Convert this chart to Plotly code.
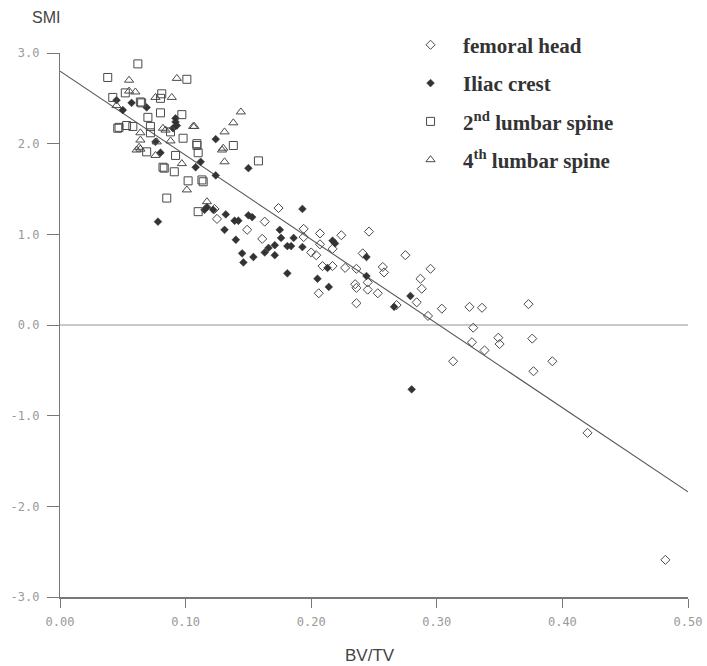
import plotly.graph_objects as go

# ---- data ----
femoral_x = [0.123, 0.125, 0.149, 0.163, 0.174, 0.161, 0.194, 0.194, 0.207, 0.207, 0.200, 0.204,
             0.224, 0.217, 0.209, 0.217, 0.206, 0.227, 0.236, 0.241, 0.246, 0.235, 0.236, 0.236,
             0.245, 0.245, 0.253, 0.257, 0.258, 0.275, 0.287, 0.288, 0.284, 0.293, 0.295, 0.268,
             0.304, 0.326, 0.336, 0.373, 0.329, 0.328, 0.338, 0.349, 0.350, 0.376, 0.313, 0.392,
             0.377, 0.420, 0.482]
femoral_y = [1.28, 1.17, 1.05, 1.14, 1.29, 0.95, 1.06, 0.97, 1.01, 0.89, 0.80, 0.77,
             0.99, 0.84, 0.65, 0.65, 0.35, 0.63, 0.62, 0.79, 1.03, 0.45, 0.41, 0.24,
             0.47, 0.39, 0.35, 0.64, 0.58, 0.77, 0.51, 0.40, 0.25, 0.10, 0.62, 0.22,
             0.18, 0.20, 0.19, 0.23, -0.03, -0.19, -0.28, -0.14, -0.21, -0.15, -0.40, -0.40,
             -0.51, -1.19, -2.59]

iliac_x = [0.045, 0.057, 0.050, 0.069, 0.092, 0.092, 0.093, 0.090, 0.076, 0.080, 0.078, 0.108,
           0.112, 0.124, 0.124, 0.150, 0.115, 0.117, 0.122, 0.132, 0.139, 0.142, 0.131, 0.140,
           0.150, 0.153, 0.145, 0.146, 0.154, 0.163, 0.166, 0.171, 0.171, 0.175, 0.176, 0.181,
           0.184, 0.186, 0.181, 0.193, 0.193, 0.205, 0.214, 0.213, 0.217, 0.219, 0.244, 0.244,
           0.279, 0.266, 0.280]
iliac_y = [2.48, 2.45, 2.37, 2.40, 2.28, 2.24, 2.20, 2.17, 2.02, 1.90, 1.14, 1.74,
           1.80, 1.65, 2.05, 1.73, 1.27, 1.30, 1.27, 1.22, 1.15, 1.15, 1.05, 0.94,
           1.21, 1.19, 0.79, 0.69, 0.75, 0.80, 0.85, 0.88, 0.77, 1.05, 0.96, 0.87,
           0.87, 0.96, 0.57, 1.28, 0.86, 0.51, 0.42, 0.63, 0.93, 0.90, 0.75, 0.54,
           0.32, 0.20, -0.71]

l2_x = [0.062, 0.038, 0.101, 0.042, 0.065, 0.081, 0.080, 0.080, 0.070, 0.047, 0.053, 0.058,
        0.072, 0.072, 0.088, 0.098, 0.069, 0.092, 0.109, 0.083, 0.091, 0.102, 0.114, 0.110,
        0.085, 0.110, 0.138, 0.158, 0.109, 0.113, 0.082, 0.046, 0.052, 0.064, 0.097]
l2_y = [2.88, 2.73, 2.71, 2.51, 2.45, 2.55, 2.50, 2.34, 2.29, 2.18, 2.20, 2.19,
        2.19, 2.12, 2.13, 2.06, 1.91, 1.87, 2.00, 1.73, 1.69, 1.59, 1.58, 1.90,
        1.40, 1.25, 1.98, 1.81, 1.98, 1.60, 1.74, 2.17, 2.56, 2.46, 2.32]

l4_x = [0.055, 0.093, 0.055, 0.060, 0.089, 0.076, 0.045, 0.107, 0.082, 0.088, 0.064, 0.064,
        0.063, 0.077, 0.064, 0.097, 0.130, 0.131, 0.101, 0.117, 0.076, 0.144, 0.138, 0.131,
        0.106, 0.129, 0.084, 0.061]
l4_y = [2.70, 2.72, 2.58, 2.57, 2.51, 2.51, 2.42, 2.19, 2.17, 2.03, 2.12, 2.04,
        1.96, 2.02, 1.94, 1.78, 1.95, 1.80, 1.49, 1.36, 1.87, 2.35, 2.23, 2.13,
        2.19, 1.93, 2.15, 1.93]

fit_x = [0.0, 0.5]
fit_y = [2.80, -1.84]
zero_x = [0.0, 0.5]
zero_y = [0.0, 0.0]

series_names = ["femoral head", "Iliac crest", "2<sup>nd</sup> lumbar spine", "4<sup>th</sup> lumbar spine"]

x_ticks = [0.0, 0.1, 0.2, 0.3, 0.4, 0.5]
x_tick_labels = ["0.00", "0.10", "0.20", "0.30", "0.40", "0.50"]
y_ticks = [3.0, 2.0, 1.0, 0.0, -1.0, -2.0, -3.0]
y_tick_labels = ["3.0", "2.0", "1.0", "0.0", "-1.0", "-2.0", "-3.0"]

# ---- figure ----
ink = "#4a4a4a"
fig = go.Figure()

fig.add_trace(go.Scatter(x=zero_x, y=zero_y, mode="lines",
                         line=dict(color="#9a9096", width=1.2), showlegend=False, hoverinfo="skip"))
fig.add_trace(go.Scatter(x=fit_x, y=fit_y, mode="lines",
                         line=dict(color="#555555", width=1.1), showlegend=False, hoverinfo="skip"))

fig.add_trace(go.Scatter(x=femoral_x, y=femoral_y, mode="markers", name=series_names[0],
                         legendgroup="a",
                         marker=dict(symbol="diamond-open", size=7, color=ink, line=dict(width=1, color=ink))))
fig.add_trace(go.Scatter(x=iliac_x, y=iliac_y, mode="markers", name=series_names[1],
                         legendgroup="b",
                         marker=dict(symbol="diamond", size=6, color="#333333", line=dict(width=0.5, color="#333333"))))
fig.add_trace(go.Scatter(x=l2_x, y=l2_y, mode="markers", name=series_names[2],
                         legendgroup="c",
                         marker=dict(symbol="square-open", size=8, color=ink, line=dict(width=1, color=ink))))
fig.add_trace(go.Scatter(x=l4_x, y=l4_y, mode="markers", name=series_names[3],
                         legendgroup="d",
                         marker=dict(symbol="triangle-up-open", size=8, color=ink, line=dict(width=1, color=ink))))

tickfont = dict(family="DejaVu Sans Mono", size=12, color="#999999")

fig.update_layout(
    width=707, height=666,
    paper_bgcolor="white", plot_bgcolor="white",
    margin=dict(l=60, r=19, t=53, b=69, autoexpand=False),
    xaxis=dict(range=[0, 0.5], tickvals=x_ticks, ticktext=x_tick_labels, showgrid=False, zeroline=False,
               showline=True, linecolor="#777777", linewidth=1.5, ticks="outside", ticklen=9,
               tickcolor="#777777", tickwidth=1, tickfont=tickfont, ticklabelstandoff=4),
    yaxis=dict(range=[-3, 3], tickvals=y_ticks, ticktext=y_tick_labels, showgrid=False, zeroline=False,
               showline=True, linecolor="#777777", linewidth=1.2, ticks="outside", ticklen=12,
               tickcolor="#777777", tickwidth=1, tickfont=tickfont, ticklabelstandoff=5),
    legend=dict(xref="container", yref="container", x=0.563, y=0.963, xanchor="left", yanchor="top",
                font=dict(family="Liberation Serif", size=21, color="#333333", weight="bold"),
                tracegroupgap=8, bgcolor="rgba(0,0,0,0)", itemwidth=55),
    annotations=[
        dict(text="SMI", xref="paper", yref="paper", x=-0.022, y=1.065, showarrow=False,
             xanchor="center", yanchor="middle", font=dict(family="Liberation Sans", size=16, color="#444444")),
        dict(text="BV/TV", xref="paper", yref="paper", x=0.494, y=-0.107, showarrow=False,
             xanchor="center", yanchor="middle", font=dict(family="Liberation Sans", size=17, color="#444444")),
    ],
)

fig.write_html("out.html", post_script="document.body.style.margin='0';",
               config={"displayModeBar": False})
